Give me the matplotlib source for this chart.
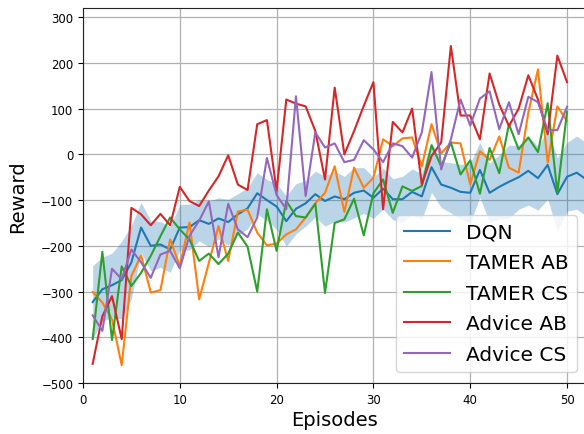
import numpy as np
import matplotlib
matplotlib.use("Agg")
import matplotlib.pyplot as plt

# Per-episode reward for each agent
episodes = np.arange(1, 51)
dqn_episodes = np.arange(1, 53)

dqn = [-323, -295, -286, -275, -236, -160, -200, -197, -208, -160,
       -159, -144, -152, -140, -148, -131, -118, -85, -100, -114,
       -146, -119, -107, -87, -102, -92, -98, -84, -79, -95,
       -75, -98, -98, -82, -92, -28, -66, -73, -82, -84,
       -34, -84, -71, -60, -50, -36, -52, -23, -87, -49,
       -40, -55]
dqn_std = [80, 70, 70, 85, 80, 55, 55, 50, 50, 50,
           50, 45, 50, 45, 50, 45, 45, 45, 45, 50,
           55, 55, 50, 50, 55, 55, 50, 55, 50, 45,
           45, 45, 50, 50, 50, 55, 50, 55, 60, 65,
           60, 65, 70, 80, 70, 75, 70, 75, 80, 75,
           80, 80]

tamer_ab = [-301, -324, -361, -461, -266, -221, -302, -297, -186, -244,
            -149, -317, -237, -157, -233, -125, -121, -171, -199, -195,
            -175, -164, -138, -107, -84, -26, -126, -29, -73, -51,
            33, 18, 35, 37, -26, 66, 2, 26, 24, -66,
            7, -12, 39, -29, -40, 91, 186, -18, 105, 73]

tamer_cs = [-404, -213, -406, -245, -288, -259, -222, -179, -138, -164,
            -186, -233, -217, -240, -217, -171, -202, -300, -120, -211,
            -102, -135, -138, -108, -303, -150, -142, -97, -177, -85,
            -55, -128, -70, -80, -69, 20, -26, 26, -44, -13,
            -86, 14, -41, 66, 11, 37, 5, 112, -84, 93]

advice_ab = [-458, -354, -310, -404, -117, -131, -155, -130, -155, -71,
             -102, -113, -79, -48, -2, -66, -78, 66, 75, -80,
             120, 111, 105, 51, -55, 146, 0, 51, 106, 158,
             -120, 71, 48, 100, -66, -4, 26, 237, 85, 85,
             33, 177, 109, 62, 100, 173, 120, 44, 216, 158]

advice_cs = [-352, -386, -250, -273, -208, -236, -270, -219, -211, -249,
             -178, -145, -103, -225, -108, -164, -181, -138, -8, -89,
             -120, 127, -91, 48, 15, 24, -17, -12, 31, 11,
             -17, 24, 18, -7, 48, 180, -33, 33, 120, 63,
             122, 138, 55, 114, 44, 126, 114, 53, 53, 104]

labels = ["DQN", "TAMER AB", "TAMER CS", "Advice AB", "Advice CS"]


def main():
    fig = plt.figure(figsize=(5.84, 4.35), dpi=100)
    # axes runs slightly past the right edge of the figure
    ax = fig.add_axes([0.1421, 0.1172, 0.862, 0.862])

    mean = np.array(dqn)
    std = np.array(dqn_std)
    ax.fill_between(dqn_episodes, mean - std, mean + std,
                    color="C0", alpha=0.3, linewidth=0, zorder=1)
    ax.plot(dqn_episodes, mean, color="C0", lw=1.5, label=labels[0], zorder=3)

    for i, series in enumerate([tamer_ab, tamer_cs, advice_ab, advice_cs]):
        ax.plot(episodes, series, color=f"C{i + 1}", lw=1.5,
                label=labels[i + 1], zorder=3)

    ax.set_xlim(0, 52)
    ax.set_ylim(-500, 320)
    ax.set_xticks(range(0, 51, 10))
    ax.set_yticks(range(-500, 301, 100))
    ax.tick_params(labelsize=8.5, direction="out", length=3.5, width=0.8)
    ax.grid(True, color="#b0b0b0", linewidth=0.9)
    ax.set_axisbelow(True)
    for side in ["left", "bottom", "top"]:
        ax.spines[side].set_color("#222222")
    ax.spines["right"].set_visible(False)

    ax.set_xlabel("Episodes", fontsize=14, labelpad=3)
    ax.set_ylabel("Reward", fontsize=14, labelpad=10)

    ax.legend(loc="lower right", bbox_to_anchor=(576.7 / 584, 62.3 / 435),
              bbox_transform=fig.transFigure, borderaxespad=0,
              fontsize=14.5, handlelength=2.3, labelspacing=0.57,
              framealpha=0.8)

    fig.savefig("out.png", dpi=100)


if __name__ == "__main__":
    main()
